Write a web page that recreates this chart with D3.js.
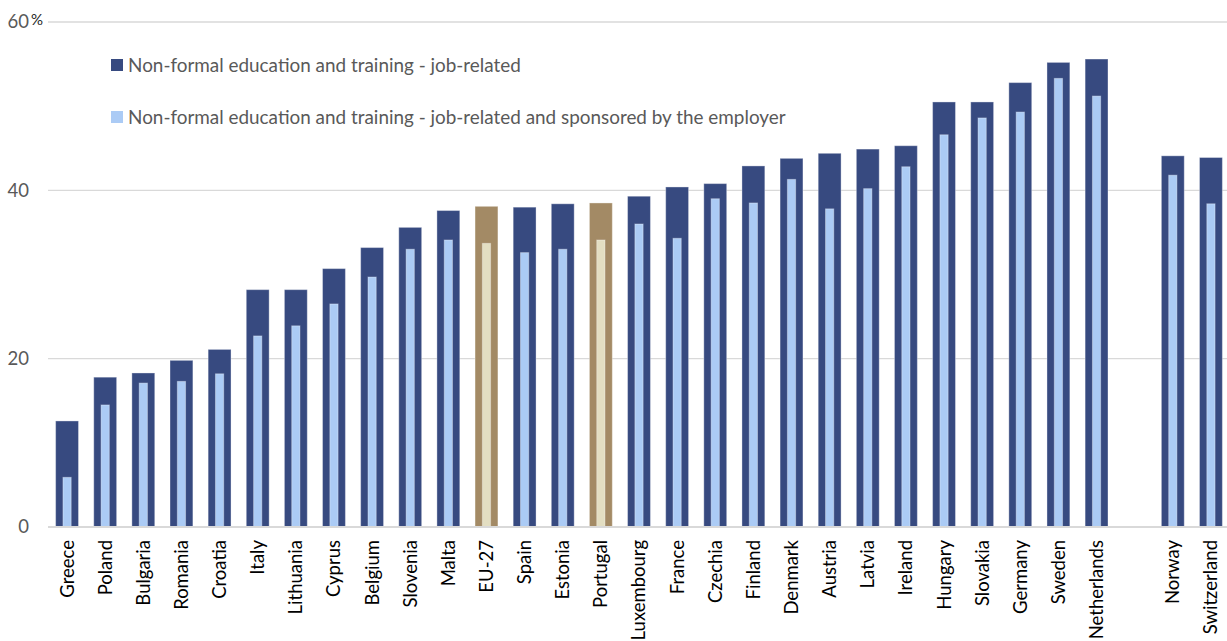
<!DOCTYPE html>
<html>
<head>
<meta charset="utf-8">
<script src="https://cdn.jsdelivr.net/npm/d3@7"></script>
<style>
  html, body { margin: 0; padding: 0; background: #ffffff; }
  svg { display: block; font-family: Lato, "Open Sans", sans-serif; }
</style>
</head>
<body>
<svg id="chart" width="1227" height="641"></svg>
<script>
// ---- data ----
const euCountries = ["Greece","Poland","Bulgaria","Romania","Croatia","Italy","Lithuania","Cyprus","Belgium","Slovenia","Malta","EU-27","Spain","Estonia","Portugal","Luxembourg","France","Czechia","Finland","Denmark","Austria","Latvia","Ireland","Hungary","Slovakia","Germany","Sweden","Netherlands"];
const nonEuCountries = ["Norway","Switzerland"];
const jobRelated = [12.6,17.8,18.3,19.8,21.1,28.2,28.2,30.7,33.2,35.6,37.6,38.1,38.0,38.4,38.5,39.3,40.4,40.8,42.9,43.8,44.4,44.9,45.3,50.5,50.5,52.8,55.2,55.6, 44.1,43.9];
const sponsored  = [5.9,14.5,17.1,17.3,18.2,22.7,23.9,26.5,29.7,33.0,34.1,33.7,32.6,33.0,34.1,36.0,34.3,39.0,38.5,41.3,37.8,40.2,42.8,46.6,48.6,49.3,53.3,51.2, 41.8,38.4];
const highlighted = ["EU-27","Portugal"];
const yTicks = [0,20,40,60];
const seriesNames = ["Non-formal education and training - job-related","Non-formal education and training - job-related and sponsored by the employer"];

// ---- build ----
const countries = euCountries.concat(nonEuCountries);
const rows = countries.map((c,i)=>({country:c, a:jobRelated[i], b:sponsored[i], hl: highlighted.includes(c)}));
const domain = euCountries.concat(["__gap__"], nonEuCountries);

const svg = d3.select("#chart");
const x = d3.scaleBand().domain(domain).range([48, 1230]).paddingInner(0.4).paddingOuter(0.2);
const y = d3.scaleLinear().domain([0,60]).range([527, 22]);

const colors = {outer:"#374a80", inner:"#abcbf5", hlOuter:"#a38a65", hlInner:"#e3dec2"};

// gridlines
svg.append("g").selectAll("line").data(yTicks.filter(d=>d>0)).join("line")
  .attr("x1",48).attr("x2",1227).attr("y1",d=>y(d)).attr("y2",d=>y(d))
  .attr("stroke","#d9d9d9").attr("stroke-width",1.3);

// y tick labels
svg.append("g").selectAll("text").data(yTicks).join("text")
  .attr("x",29).attr("y",d=>y(d)).attr("dy","0.35em")
  .attr("text-anchor","end").attr("fill","#595959").attr("font-size",18.5)
  .text(d=>d);
svg.append("text").attr("x",31).attr("y",y(60)+3).attr("fill","#262626")
  .attr("font-size",15).text("%");

// bars
const bw = x.bandwidth();
const innerW = bw*0.36;
svg.append("g").selectAll("rect").data(rows).join("rect")
  .attr("x",d=>x(d.country)).attr("width",bw)
  .attr("y",d=>y(d.a)).attr("height",d=>y(0)-y(d.a))
  .attr("fill",d=>d.hl?colors.hlOuter:colors.outer)
  .attr("stroke","rgba(255,255,255,0.35)").attr("stroke-width",1);
svg.append("g").selectAll("rect").data(rows).join("rect")
  .attr("x",d=>x(d.country)+(bw-innerW)/2).attr("width",innerW)
  .attr("y",d=>y(d.b)).attr("height",d=>y(0)-y(d.b))
  .attr("fill",d=>d.hl?colors.hlInner:colors.inner)
  .attr("stroke","rgba(255,255,255,0.35)").attr("stroke-width",1);

// baseline
svg.append("line").attr("x1",48).attr("x2",1227).attr("y1",y(0)).attr("y2",y(0))
  .attr("stroke","#d9d9d9").attr("stroke-width",2);

// x labels
svg.append("g").selectAll("text").data(countries).join("text")
  .attr("transform",d=>`translate(${x(d)+bw/2},540) rotate(-90)`)
  .attr("dy","0.35em").attr("text-anchor","end")
  .attr("fill","#000000").attr("font-size",18.5)
  .text(d=>d);

// legend
const leg = svg.append("g").selectAll("g").data(seriesNames).join("g")
  .attr("transform",(d,i)=>`translate(111,${59+i*52})`);
leg.append("rect").attr("width",12).attr("height",12)
  .attr("fill",(d,i)=>i===0?colors.outer:colors.inner);
leg.append("text").attr("x",17).attr("y",6).attr("dy","0.35em")
  .attr("fill","#595959").attr("font-size",18.9).text(d=>d);
</script>
</body>
</html>
